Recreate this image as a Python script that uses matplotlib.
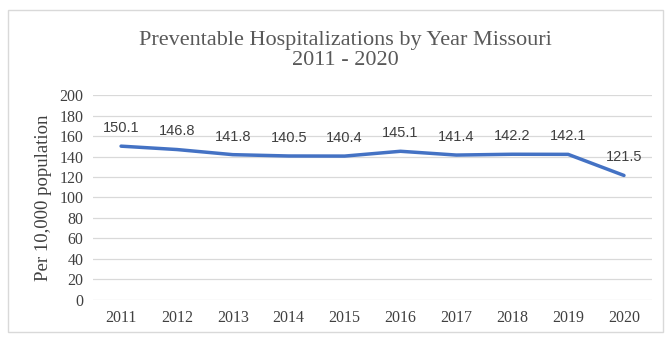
import matplotlib
matplotlib.use("Agg")
import matplotlib.pyplot as plt
from matplotlib.patches import Rectangle

years = ["2011", "2012", "2013", "2014", "2015", "2016", "2017", "2018", "2019", "2020"]
rates = [150.1, 146.8, 141.8, 140.5, 140.4, 145.1, 141.4, 142.2, 142.1, 121.5]
yticks = list(range(0, 201, 20))

fig = plt.figure(figsize=(6.7, 3.37), dpi=100)
ax = fig.add_axes([0.139, 0.110, 0.834, 0.608])

# chart border
fig.patches.append(Rectangle((0.012, 0.015), 0.978, 0.955, transform=fig.transFigure,
                             fill=False, edgecolor="#d9d9d9", linewidth=1))

x = list(range(len(years)))
ax.plot(x, rates, color="#4472c4", linewidth=2.5, solid_capstyle="round")
for xi, v in zip(x, rates):
    ax.annotate(f"{v}", (xi, v), xytext=(0, 8), textcoords="offset points",
                ha="center", va="bottom", fontsize=10.5, color="#404040",
                family="Liberation Sans")

ax.set_xlim(-0.5, len(years) - 0.5)
ax.set_ylim(0, 200)
ax.set_yticks(yticks)
ax.set_xticks(x)
ax.set_xticklabels(years)
ax.grid(axis="y", color="#d9d9d9", linewidth=0.9)
ax.set_axisbelow(True)
for s in ax.spines.values():
    s.set_visible(False)
ax.tick_params(length=0, labelsize=11.5, labelcolor="#404040", pad=7)
for lab in ax.get_xticklabels() + ax.get_yticklabels():
    lab.set_family("Liberation Serif")
ax.set_ylabel("Per 10,000 population", family="Liberation Serif", fontsize=13.5,
              color="#404040", labelpad=5)

fig.text(0.515, 0.85, "Preventable Hospitalizations by Year Missouri\n2011 - 2020",
         ha="center", va="center", family="Liberation Serif", fontsize=16,
         color="#595959", linespacing=1.1)

fig.savefig("out.png", dpi=100)
